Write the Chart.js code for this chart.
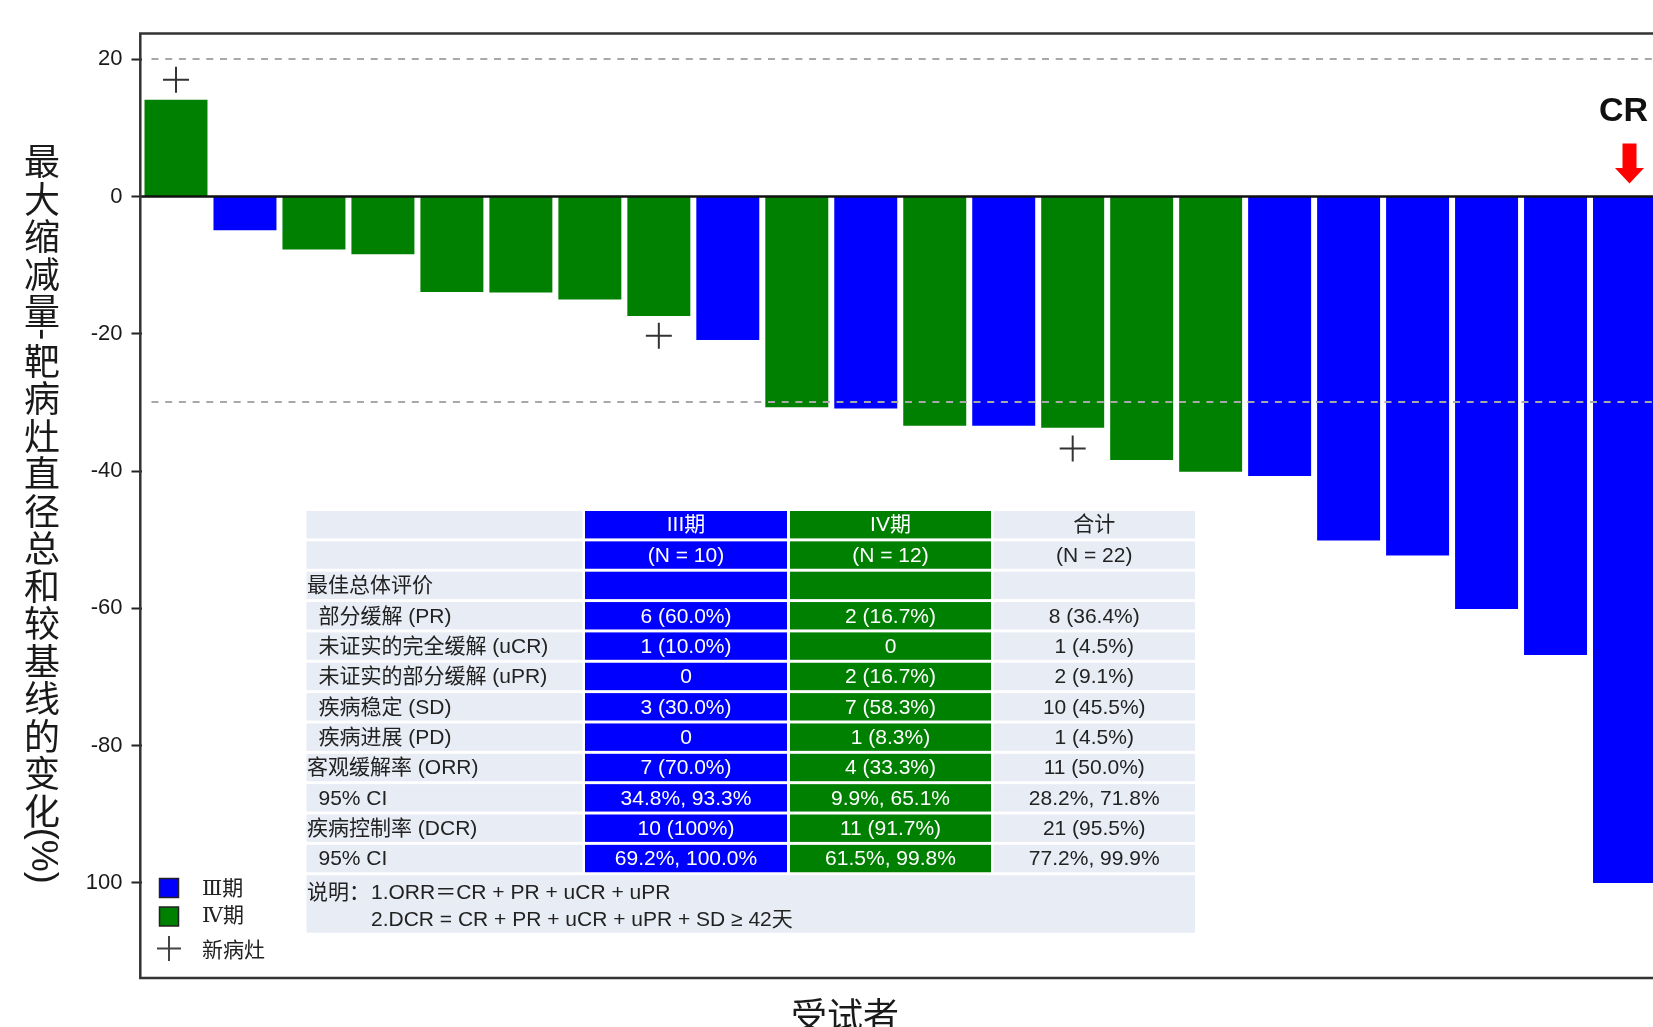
<!DOCTYPE html>
<html>
<head>
<meta charset="utf-8">
<script src="https://cdn.jsdelivr.net/npm/chart.js@4.4.1/dist/chart.umd.min.js"></script>
<style>
  html, body { margin: 0; padding: 0; background: #ffffff; overflow: hidden; }
  #wrap { position: relative; width: 1660px; height: 1027px; }
</style>
</head>
<body>
<div id="wrap"><canvas id="c" width="1660" height="1027"></canvas></div>
<script>
// ---- data ----------------------------------------------------------------
const subjects = ['1','2','3','4','5','6','7','8','9','10','11','12','13','14','15','16','17','18','19','20','21','22'];
const stages = ['IV','III','IV','IV','IV','IV','IV','IV','III','IV','III','IV','III','IV','IV','IV','III','III','III','III','III','III'];
const maxChange = [14.1, -4.9, -7.7, -8.4, -13.9, -14.0, -15.0, -17.4, -20.9, -30.7, -30.9, -33.4, -33.4, -33.7, -38.4, -40.1, -40.7, -50.1, -52.3, -60.1, -66.8, -100];
const newLesion = [17, null, null, null, null, null, null, -20.3, null, null, null, null, null, -36.7, null, null, null, null, null, null, null, null];
const refLines = [20, -30];
const yTicks = [20, 0, -20, -40, -60, -80, -100];
const yTickLabels = ['20', '0', '-20', '-40', '-60', '-80', '100'];
const crIndex = 21;

const yTitle = '最大缩减量-靶病灶直径总和较基线的变化(%)';
const xTitle = '受试者';
const legendLabels = ['Ⅲ期', 'Ⅳ期', '新病灶'];

// summary table
const rowLabels = ['', '', '最佳总体评价', '部分缓解 (PR)', '未证实的完全缓解 (uCR)', '未证实的部分缓解 (uPR)', '疾病稳定 (SD)', '疾病进展 (PD)', '客观缓解率 (ORR)', '95% CI', '疾病控制率 (DCR)', '95% CI'];
const rowIndent = [0, 0, 0, 1, 1, 1, 1, 1, 0, 1, 0, 1];
const stage3Col = ['III期', '(N = 10)', '', '6 (60.0%)', '1 (10.0%)', '0', '3 (30.0%)', '0', '7 (70.0%)', '34.8%, 93.3%', '10 (100%)', '69.2%, 100.0%'];
const stage4Col = ['IV期', '(N = 12)', '', '2 (16.7%)', '0', '2 (16.7%)', '7 (58.3%)', '1 (8.3%)', '4 (33.3%)', '9.9%, 65.1%', '11 (91.7%)', '61.5%, 99.8%'];
const totalCol = ['合计', '(N = 22)', '', '8 (36.4%)', '1 (4.5%)', '2 (9.1%)', '10 (45.5%)', '1 (4.5%)', '11 (50.0%)', '28.2%, 71.8%', '21 (95.5%)', '77.2%, 99.9%'];
const notePrefix = '说明：';
const noteLines = ['1.ORR＝CR + PR + uCR + uPR', '2.DCR = CR + PR + uCR + uPR + SD ≥ 42天'];

// ---- styles --------------------------------------------------------------
const stageColor = { III: '#0000ff', IV: '#008000' };
const SANS = '"Liberation Sans", Arial, "Noto Sans CJK SC", sans-serif';
const CJK = '"Noto Sans CJK SC", "Liberation Sans", sans-serif';
const TABLE_BG = '#e8ecf5';
const INK = '#222222';

// table layout
const TBL = {
  top: 511, pitch: 30.35, rowH: 27.4,
  labelX0: 306.5, labelX1: 582.5,
  cols: [[585, 787], [790, 991], [993.5, 1195]],
  noteBottom: 932.7
};

function drawTable(ctx) {
  ctx.save();
  ctx.font = '21px ' + SANS;
  ctx.textBaseline = 'middle';
  const colData = [stage3Col, stage4Col, totalCol];
  const colFill = [stageColor.III, stageColor.IV, TABLE_BG];
  const colInk = ['#ffffff', '#ffffff', INK];
  rowLabels.forEach((lab, r) => {
    const top = TBL.top + r * TBL.pitch;
    const cy = top + TBL.rowH / 2 + 1;
    ctx.fillStyle = TABLE_BG;
    ctx.fillRect(TBL.labelX0, top, TBL.labelX1 - TBL.labelX0, TBL.rowH);
    if (lab) {
      ctx.fillStyle = INK;
      ctx.textAlign = 'left';
      ctx.fillText(lab, TBL.labelX0 + (rowIndent[r] ? 12 : 0.5), cy);
    }
    TBL.cols.forEach((c, k) => {
      ctx.fillStyle = colFill[k];
      ctx.fillRect(c[0], top, c[1] - c[0], TBL.rowH);
      const txt = colData[k][r];
      if (txt) {
        ctx.fillStyle = colInk[k];
        ctx.textAlign = 'center';
        ctx.fillText(txt, (c[0] + c[1]) / 2, cy);
      }
    });
  });
  // footnote block
  const nTop = TBL.top + rowLabels.length * TBL.pitch;
  ctx.fillStyle = TABLE_BG;
  ctx.fillRect(TBL.labelX0, nTop, TBL.cols[2][1] - TBL.labelX0, TBL.noteBottom - nTop);
  ctx.fillStyle = INK;
  ctx.textAlign = 'left';
  const px = TBL.labelX0 + 0.5;
  ctx.fillText(notePrefix, px, nTop + 18);
  const indent = px + ctx.measureText(notePrefix).width + 1;
  ctx.fillText(noteLines[0], indent, nTop + 18);
  ctx.fillText(noteLines[1], indent, nTop + 45);
  ctx.restore();
}

function drawLegend(ctx) {
  ctx.save();
  const sq = [[stageColor.III, 878.5], [stageColor.IV, 907]];
  sq.forEach(([col, y]) => {
    ctx.fillStyle = col;
    ctx.fillRect(159.5, y, 19, 19);
    ctx.strokeStyle = '#222';
    ctx.lineWidth = 1.5;
    ctx.strokeRect(159.5, y, 19, 19);
  });
  ctx.strokeStyle = '#444';
  ctx.lineWidth = 2;
  ctx.beginPath();
  ctx.moveTo(157, 948.5); ctx.lineTo(181, 948.5);
  ctx.moveTo(169, 936); ctx.lineTo(169, 961);
  ctx.stroke();
  ctx.fillStyle = INK;
  ctx.textAlign = 'left';
  ctx.textBaseline = 'middle';
  ctx.font = '21px "DejaVu Serif", "Noto Sans CJK SC", serif';
  ctx.fillText(legendLabels[0], 202, 890);
  ctx.fillText(legendLabels[1], 202, 917);
  ctx.font = '21px ' + CJK;
  ctx.fillText(legendLabels[2], 202, 949);
  ctx.restore();
}

function drawTitles(ctx) {
  ctx.save();
  ctx.fillStyle = '#1a1a1a';
  // vertical axis title: CJK upright, Latin runs turned clockwise
  const cx = 42, adv = 37.5;
  let pos = 140.75;
  const chars = Array.from(yTitle);
  let i = 0;
  while (i < chars.length) {
    const ch = chars[i];
    if (ch.charCodeAt(0) > 0x2e80) {
      ctx.font = '36px ' + CJK;
      ctx.textAlign = 'center';
      ctx.textBaseline = 'middle';
      ctx.fillText(ch, cx, pos + adv / 2 + 2);
      pos += adv;
      i++;
    } else {
      let run = '';
      while (i < chars.length && chars[i].charCodeAt(0) <= 0x2e80) { run += chars[i]; i++; }
      ctx.font = '36px ' + SANS;
      const w = ctx.measureText(run).width;
      ctx.save();
      ctx.translate(cx, pos);
      ctx.rotate(Math.PI / 2);
      ctx.textAlign = 'left';
      ctx.textBaseline = 'middle';
      ctx.fillText(run, 0, 0);
      ctx.restore();
      pos += w;
    }
  }
  // horizontal axis title
  ctx.font = '36px ' + CJK;
  ctx.textAlign = 'center';
  ctx.textBaseline = 'middle';
  ctx.fillText(xTitle, 845, 1015);
  ctx.restore();
}

const decor = {
  id: 'decor',
  afterDatasetsDraw(chart) {
    const { ctx, chartArea: a, scales: { x, y } } = chart;
    ctx.save();
    // dashed reference levels
    ctx.strokeStyle = '#a8a8a8';
    ctx.lineWidth = 2;
    ctx.setLineDash([7, 6.7]);
    refLines.forEach(v => {
      const py = Math.round(y.getPixelForValue(v));
      ctx.beginPath();
      ctx.moveTo(a.left + 10, py);
      ctx.lineTo(a.right, py);
      ctx.stroke();
    });
    ctx.setLineDash([]);
    // zero line
    const y0 = y.getPixelForValue(0);
    ctx.strokeStyle = '#111';
    ctx.lineWidth = 2.5;
    ctx.beginPath();
    ctx.moveTo(a.left, y0);
    ctx.lineTo(a.right, y0);
    ctx.stroke();
    ctx.restore();
  },
  afterDraw(chart) {
    const { ctx, chartArea: a, scales: { x, y } } = chart;
    ctx.save();
    // frame
    ctx.strokeStyle = '#333';
    ctx.lineWidth = 2.5;
    ctx.beginPath();
    ctx.moveTo(a.right + 2, 33.5);
    ctx.lineTo(140.3, 33.5);
    ctx.lineTo(140.3, 978);
    ctx.lineTo(a.right + 2, 978);
    ctx.stroke();
    // complete-response marker over the last bar
    const ax = x.getPixelForValue(crIndex) + 5;
    ctx.fillStyle = '#111';
    ctx.font = 'bold 34px ' + SANS;
    ctx.textAlign = 'center';
    ctx.textBaseline = 'alphabetic';
    ctx.fillText('CR', ax - 6, 121);
    ctx.fillStyle = '#ff0000';
    ctx.beginPath();
    ctx.moveTo(ax - 7, 143.5);
    ctx.lineTo(ax + 7, 143.5);
    ctx.lineTo(ax + 7, 168);
    ctx.lineTo(ax + 14.5, 168);
    ctx.lineTo(ax, 183.5);
    ctx.lineTo(ax - 14.5, 168);
    ctx.lineTo(ax - 7, 168);
    ctx.closePath();
    ctx.fill();
    ctx.restore();
    drawTable(ctx);
    drawLegend(ctx);
    drawTitles(ctx);
  }
};

new Chart(document.getElementById('c'), {
  type: 'bar',
  data: {
    labels: subjects,
    datasets: [
      {
        type: 'line',
        label: legendLabels[2],
        data: newLesion,
        showLine: false,
        pointStyle: 'cross',
        pointRadius: 13,
        pointHoverRadius: 13,
        pointBorderWidth: 2,
        borderColor: '#333',
        backgroundColor: '#333',
        order: 0
      },
      {
        type: 'bar',
        label: '最大缩减量',
        data: maxChange,
        backgroundColor: stages.map(s => stageColor[s]),
        borderWidth: 0,
        barPercentage: 1,
        categoryPercentage: 0.913,
        order: 1
      }
    ]
  },
  options: {
    responsive: false,
    animation: false,
    devicePixelRatio: 1,
    layout: { autoPadding: false, padding: { left: 0, right: 1, top: 33.5, bottom: 49 } },
    plugins: { legend: { display: false }, tooltip: { enabled: false } },
    scales: {
      x: { display: false, offset: true, grid: { display: false } },
      y: {
        min: -113.85,
        max: 23.75,
        afterFit(s) { s.width = 141.5; },
        afterBuildTicks(s) { s.ticks = yTicks.map(v => ({ value: v })); },
        ticks: {
          autoSkip: false,
          padding: 9,
          color: '#1a1a1a',
          font: { family: SANS, size: 22 },
          callback: (v, i) => yTickLabels[i]
        },
        grid: { drawOnChartArea: false, drawTicks: true, tickLength: 10, tickColor: '#222', tickWidth: 2 },
        border: { display: false }
      }
    }
  },
  plugins: [decor]
});
</script>
</body>
</html>
